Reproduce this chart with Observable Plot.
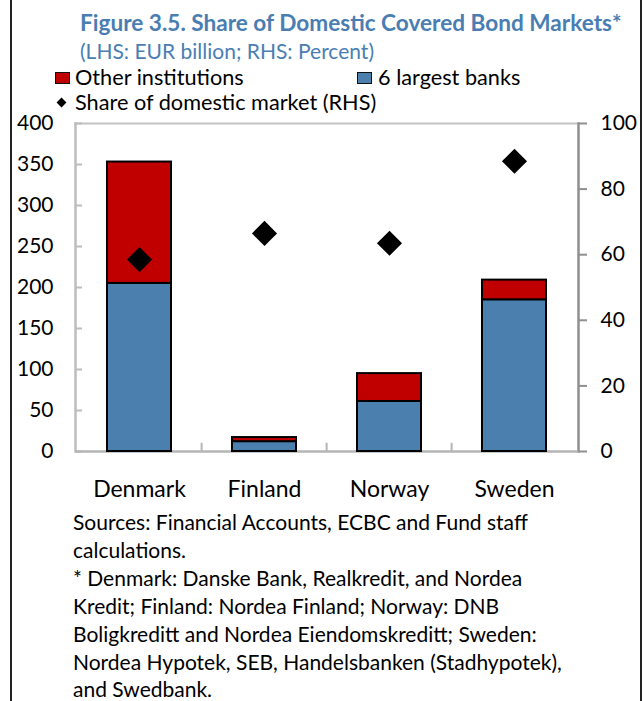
<!DOCTYPE html>
<html>
<head>
<meta charset="utf-8">
<script src="https://cdn.jsdelivr.net/npm/d3@7"></script>
<script src="https://cdn.jsdelivr.net/npm/@observablehq/plot@0.6"></script>
<style>
  html, body { margin: 0; padding: 0; background: #fff; }
  body { width: 644px; height: 701px; overflow: hidden; font-family: Lato, "Open Sans", sans-serif; color: #000; }
  #wrap { position: relative; width: 644px; height: 701px; }
  .vb { position: absolute; top: 0; height: 701px; width: 2px; background: #222; }
  .t { position: absolute; white-space: nowrap; line-height: 1; }
  #title { left: 80px; top: 12px; font-size: 22.6px; font-weight: bold; color: #4a7eb3; }
  #subtitle { left: 80px; top: 39.5px; font-size: 21px; color: #4a7eb3; }
  .sw { position: absolute; width: 13px; height: 10px; border: 1.5px solid #111; }
  .dia { position: absolute; width: 7px; height: 7px; background: #000; transform: rotate(45deg); }
  .lg { font-size: 21.7px; }
  #chart { position: absolute; left: 0; top: 110px; }
  #caption { position: absolute; left: 73px; top: 508px; font-size: 21px; line-height: 27.9px; white-space: nowrap; }
</style>
</head>
<body>
<div id="wrap">
  <div class="vb" style="left:10px"></div>
  <div class="vb" style="left:640px"></div>
  <div class="t" id="title">Figure 3.5. Share of Domestic Covered Bond Markets*</div>
  <div class="t" id="subtitle">(LHS: EUR billion; RHS: Percent)</div>
  <div class="sw" style="left:55px; top:72px; background:#c00000;"></div>
  <div class="t lg" style="left:75px; top:66.5px;">Other institutions</div>
  <div class="sw" style="left:357px; top:72px; background:#4b7fae;"></div>
  <div class="t lg" style="left:378px; top:66.5px;">6 largest banks</div>
  <div class="dia" style="left:58px; top:99px;"></div>
  <div class="t lg" style="left:75px; top:91.5px;">Share of domestic market (RHS)</div>
  <div id="chart"></div>
  <div id="caption">Sources: Financial Accounts, ECBC and Fund staff<br>calculations.<br>* Denmark: Danske Bank, Realkredit, and Nordea<br>Kredit; Finland: Nordea Finland; Norway: DNB<br>Boligkreditt and Nordea Eiendomskreditt; Sweden:<br>Nordea Hypotek, SEB, Handelsbanken (Stadhypotek),<br>and Swedbank.</div>
</div>
<script>
// ---- data ----
const countries = ["Denmark", "Finland", "Norway", "Sweden"];
const seriesNames = ["6 largest banks", "Other institutions"];
const largestBanks = [205, 12, 61, 185];      // EUR billion (LHS)
const otherInstitutions = [148, 5, 34, 24];   // EUR billion (LHS)
const marketShare = [58.5, 66.5, 63.5, 88.5]; // percent (RHS)
const lhsTicks = [0, 50, 100, 150, 200, 250, 300, 350, 400];
const rhsTicks = [0, 20, 40, 60, 80, 100];
const seriesColors = ["#4b7fae", "#c00000"];

// ---- build tables ----
const rows = [];
countries.forEach((c, i) => {
  rows.push({country: c, series: seriesNames[0], value: largestBanks[i]});
  rows.push({country: c, series: seriesNames[1], value: otherInstitutions[i]});
});
const shares = countries.map((c, i) => ({country: c, share: marketShare[i]}));
const rhsFactor = lhsTicks[lhsTicks.length - 1] / rhsTicks[rhsTicks.length - 1];

const W = 644, H = 390, ML = 75, MR = 66, MT = 13, MB = 49;
const step = (W - ML - MR) / countries.length;

const chart = Plot.plot({
  width: W, height: H,
  marginLeft: ML, marginRight: MR, marginTop: MT, marginBottom: MB,
  style: {fontFamily: "Lato, 'Open Sans', sans-serif", fontSize: "21px", color: "#000", background: "transparent", overflow: "visible"},
  x: {domain: countries, paddingInner: 0.49, paddingOuter: 0.245, axis: null},
  y: {domain: [0, 400], axis: null},
  color: {domain: seriesNames, range: seriesColors},
  marks: [
    Plot.frame({anchor: "top", stroke: "#c3c3c3", strokeWidth: 2}),
    Plot.frame({anchor: "left", stroke: "#bdbdbd", strokeWidth: 2.5}),
    Plot.frame({anchor: "right", stroke: "#8f8f8f", strokeWidth: 2.5}),
    Plot.axisY({ticks: lhsTicks, anchor: "left", tickSize: -7, tickPadding: 29, stroke: "#bdbdbd", strokeWidth: 2, fill: "#000", fontSize: 21, tickFormat: d => d, label: null}),
    Plot.axisY({ticks: rhsTicks.map(v => v * rhsFactor), anchor: "right", tickSize: 8, tickPadding: 14, stroke: "#8f8f8f", strokeWidth: 2, fill: "#000", fontSize: 21, tickFormat: d => d / rhsFactor, label: null}),
    Plot.axisX({anchor: "bottom", tickSize: 0, tickPadding: 29, fill: "#000", fontSize: 23, label: null}),
    Plot.ruleX(countries.slice(1), {x: d => d, dx: -step / 2, y1: 0, y2: 10, stroke: "#b5b5b5", strokeWidth: 2}),
    Plot.ruleY([0], {stroke: "#b5b5b5", strokeWidth: 2.5}),
    Plot.barY(rows, {x: "country", y: "value", fill: "series", stroke: "#000", strokeWidth: 2}),
    Plot.dot(shares, {x: "country", y: d => d.share * rhsFactor, symbol: "diamond2", r: 11.3, fill: "#000", stroke: "none"})
  ]
});
document.getElementById("chart").appendChild(chart);
</script>
</body>
</html>
